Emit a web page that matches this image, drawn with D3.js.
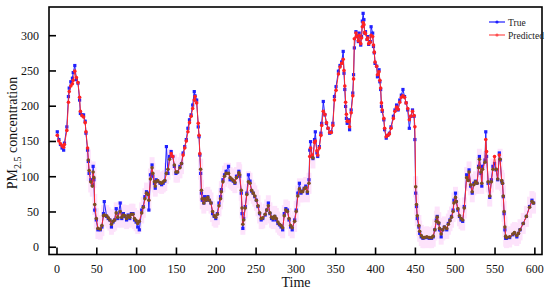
<!DOCTYPE html>
<html>
<head>
<meta charset="utf-8">
<script src="https://cdn.jsdelivr.net/npm/d3@7/dist/d3.min.js"></script>
<style>
  body { margin: 0; background: #fff; }
  svg { display: block; font-family: "Liberation Serif", "Times New Roman", serif; }
</style>
</head>
<body>
<svg id="chart" width="550" height="298"></svg>
<script>
// time index of each sample
var time = [1,3,5,7,9,10,13,15,16,18,20,21,23,25,27,29,30,32,34,36,37,39,40,41,43,45,46,47,48,50,
  52,55,57,59,60,63,65,67,69,71,73,75,77,80,82,84,86,88,90,92,94,96,98,100,102,104,107,109,111,113,
  115,116,118,120,121,123,124,125,127,130,132,134,136,138,140,142,144,146,148,150,152,155,157,159,161,163,165,167,169,171,
  173,174,176,178,179,180,181,182,183,185,186,188,190,192,194,196,198,200,202,204,206,207,209,211,213,216,218,220,222,224,
  226,229,230,232,233,234,235,237,239,241,243,245,247,249,251,253,255,257,259,262,264,266,268,270,272,274,276,278,280,282,
  284,286,288,290,292,294,296,299,301,303,305,307,309,311,313,315,317,318,319,321,322,324,325,327,328,330,332,333,335,337,
  339,341,343,345,347,349,351,354,356,358,360,361,362,363,364,365,367,368,370,372,373,374,376,377,379,380,382,383,384,385,
  386,387,388,390,391,392,394,395,397,398,399,400,402,403,405,406,407,408,409,411,412,414,416,418,420,423,425,427,429,431,
  433,435,437,439,441,443,445,447,449,450,451,452,453,455,456,458,460,462,465,468,471,473,475,477,478,480,481,483,485,487,
  490,492,494,496,498,499,501,502,504,506,508,510,512,515,517,518,520,522,524,526,528,530,531,533,534,535,538,539,540,542,
  544,546,548,550,552,554,556,557,559,560,561,562,563,564,565,569,573,575,578,580,582,586,590,594,597,599];

var trueValues = [163,152,145,140,137,147,170,213,225,234,239,247,257,237,232,208,189,187,187,178,161,137,121,104,95,88,114,95,52,38,
  24,24,28,47,64,43,40,38,28,35,38,54,40,62,40,47,43,38,45,40,47,47,38,35,28,24,52,57,71,78,
  76,52,102,116,100,90,83,95,93,90,88,90,93,142,104,128,135,128,114,104,106,114,118,133,142,152,168,180,187,201,
  220,214,208,170,156,130,104,76,66,62,71,66,71,66,62,47,43,40,47,62,71,81,95,102,107,114,95,95,93,90,
  100,107,100,76,47,26,40,57,76,102,93,79,76,71,66,57,47,38,40,45,52,62,47,40,38,43,38,33,31,28,
  24,47,54,52,38,28,24,38,52,76,90,76,79,83,86,76,95,137,149,128,125,152,163,133,128,142,161,175,206,187,
  175,168,161,163,175,213,227,249,257,262,277,246,223,199,182,175,180,166,194,218,244,282,305,299,291,303,286,298,320,331,
  322,303,305,294,298,287,291,312,303,284,275,260,256,241,251,234,223,199,192,180,166,154,158,161,170,185,194,201,194,208,
  215,223,213,204,194,168,185,194,185,152,76,57,40,28,19,14,12,13,13,12,12,14,24,38,43,33,24,14,24,28,
  24,33,38,43,52,66,76,64,52,43,38,36,57,102,95,109,86,76,90,93,90,114,128,104,86,114,123,163,128,90,
  70,95,114,118,109,95,133,123,93,90,71,47,24,12,12,13,17,19,14,19,24,33,43,57,66,62];

var predValues = [158,150,146,143,141,145,165,205,220,228,231,236,249,240,233,212,192,186,184,176,163,140,123,108,92,86,106,98,60,40,
  26,25,30,44,45,44,41,38,32,36,38,48,42,50,42,45,44,40,44,42,46,46,40,37,33,36,48,56,68,76,
  74,66,96,112,104,92,86,92,94,91,90,92,94,104,110,124,132,128,116,106,106,112,118,130,140,150,163,176,185,196,
  208,213,204,175,158,132,110,80,68,62,68,66,70,66,62,50,44,42,46,58,68,78,92,100,104,104,98,96,94,91,
  98,105,102,80,55,32,38,55,74,92,90,80,76,72,66,58,48,40,41,46,52,58,48,42,40,43,40,35,32,30,
  27,44,52,50,40,30,27,36,50,72,82,78,78,82,84,78,90,128,140,130,126,148,150,136,130,140,158,172,192,188,
  176,168,162,162,172,208,222,245,255,260,266,250,228,205,188,178,178,170,190,214,238,295,303,298,292,300,288,296,312,318,
  315,304,302,294,296,288,290,300,298,286,276,262,256,244,248,236,225,204,194,182,168,156,158,160,168,182,192,198,195,205,
  212,214,212,204,196,180,185,192,186,170,85,60,44,30,22,16,13,13,14,13,13,15,24,36,42,34,26,18,24,28,
  26,32,37,42,50,62,70,64,54,44,40,38,55,98,94,106,88,78,88,92,90,112,124,106,90,110,120,152,135,92,
  72,92,110,128,110,96,130,124,94,90,72,50,28,15,13,14,18,20,16,19,24,33,43,56,64,62];

var xTicks = [0, 50, 100, 150, 200, 250, 300, 350, 400, 450, 500, 550, 600];
var yTicks = [0, 50, 100, 150, 200, 250, 300];
var seriesNames = ["True", "Predicted"];

(function() {
  var svg = d3.select("#chart");
  var mLeft = 49, mRight = 542, mTop = 7, mBottom = 254.5;

  var x = d3.scaleLinear().domain([-9.4, 609.6]).range([mLeft, mRight]);
  var y = d3.scaleLinear().domain([-11, 340]).range([mBottom, mTop]);

  var data = time.map(function(t, i) {
    return { t: t, tv: trueValues[i], pv: predValues[i] };
  });

  svg.append("clipPath").attr("id", "clip").append("rect")
    .attr("x", mLeft).attr("y", mTop).attr("width", mRight - mLeft).attr("height", mBottom - mTop);
  var inner = svg.append("g").attr("clip-path", "url(#clip)");

  // pale band behind the lower-valued predictions
  var band = 15, low = 128;
  inner.selectAll(".band").data(data.filter(function(d) { return d.pv < low; })).enter()
    .append("rect")
    .attr("x", function(d) { return x(d.t) - 2.5; })
    .attr("width", 5)
    .attr("y", function(d) { return y(d.pv + band); })
    .attr("height", function(d) { return y(d.pv - band) - y(d.pv + band); })
    .attr("fill", "#fde3fb");

  var lineTrue = d3.line().x(function(d) { return x(d.t); }).y(function(d) { return y(d.tv); });
  var linePred = d3.line().x(function(d) { return x(d.t); }).y(function(d) { return y(d.pv); });

  inner.append("path").datum(data).attr("d", lineTrue)
    .attr("fill", "none").attr("stroke", "#1f1fff").attr("stroke-width", 1);
  inner.selectAll(".pt").data(data).enter().append("rect")
    .attr("x", function(d) { return x(d.t) - 1.6; })
    .attr("y", function(d) { return y(d.tv) - 1.6; })
    .attr("width", 3.2).attr("height", 3.2)
    .attr("fill", "#2020ff");

  inner.append("path").datum(data).attr("d", linePred)
    .attr("fill", "none").attr("stroke", "#ff2a2a").attr("stroke-width", 1);
  inner.selectAll(".pp").data(data).enter().append("circle")
    .attr("cx", function(d) { return x(d.t); })
    .attr("cy", function(d) { return y(d.pv); })
    .attr("r", 1.8)
    .attr("fill", function(d) { return d.pv < low ? "#7d4d22" : "#ff2222"; });

  // frame
  svg.append("rect").attr("x", mLeft).attr("y", mTop)
    .attr("width", mRight - mLeft).attr("height", mBottom - mTop)
    .attr("fill", "none").attr("stroke", "#000").attr("stroke-width", 1.6);

  // axes with inward ticks
  var xAxis = svg.append("g").attr("transform", "translate(0," + mBottom + ")")
    .call(d3.axisBottom(x).tickValues(xTicks).tickSizeInner(-7).tickSizeOuter(0).tickPadding(10));
  var yAxis = svg.append("g").attr("transform", "translate(" + mLeft + ",0)")
    .call(d3.axisLeft(y).tickValues(yTicks).tickSizeInner(-7).tickSizeOuter(0).tickPadding(10));
  [xAxis, yAxis].forEach(function(a) {
    a.select(".domain").remove();
    a.selectAll("line").attr("stroke", "#000").attr("stroke-width", 1.6);
    a.selectAll("text").attr("font-family", "Liberation Serif").attr("font-size", 12).attr("fill", "#111");
  });

  svg.append("text").attr("x", 296).attr("y", 287).attr("text-anchor", "middle")
    .attr("font-size", 14).attr("fill", "#111").text("Time");

  var yl = svg.append("text").attr("transform", "translate(17,133) rotate(-90)")
    .attr("text-anchor", "middle").attr("font-size", 14).attr("fill", "#111");
  yl.append("tspan").text("PM");
  yl.append("tspan").attr("font-size", 10).attr("dy", 4).text("2.5");
  yl.append("tspan").attr("dy", -4).text(" concentration");

  // legend
  var legColors = ["#1f1fff", "#ff5050"];
  var leg = svg.append("g");
  seriesNames.forEach(function(name, i) {
    var ly = 22 + i * 13;
    leg.append("line").attr("x1", 489).attr("x2", 505).attr("y1", ly).attr("y2", ly)
      .attr("stroke", legColors[i]).attr("stroke-width", 1.2);
    leg.append("circle").attr("cx", 497).attr("cy", ly).attr("r", 1.6).attr("fill", legColors[i]);
    leg.append("text").attr("x", 508).attr("y", ly + 3.5).attr("font-size", 9.5).attr("fill", "#222").text(name);
  });
})();
</script>
</body>
</html>
